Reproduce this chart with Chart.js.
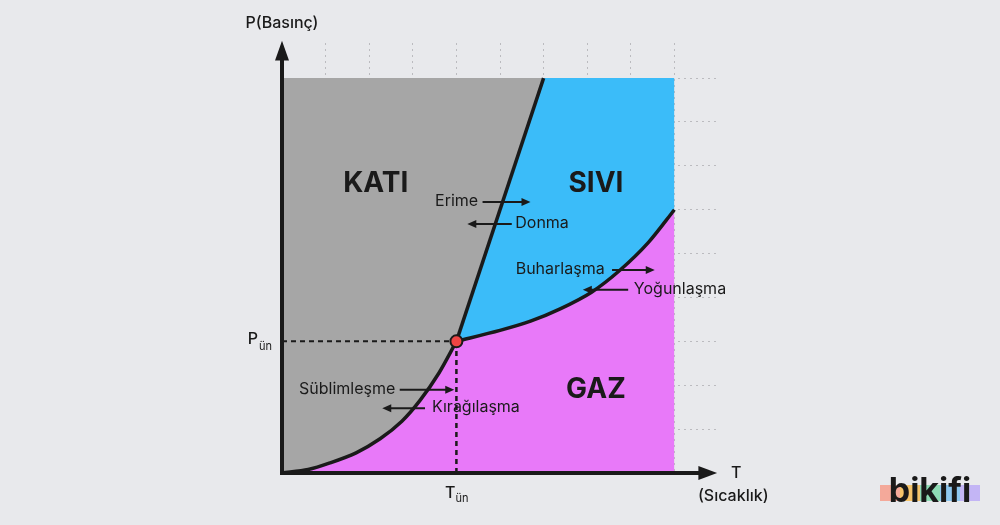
<!DOCTYPE html>
<html>
<head>
<meta charset="utf-8">
<script src="https://cdn.jsdelivr.net/npm/chart.js@4"></script>
<style>
  html, body { margin: 0; background: #e8e9ec; }
  #wrap { width: 1000px; height: 525px; }
</style>
</head>
<body>
<div id="wrap"><canvas id="c"></canvas></div>
<script>
// boundary curves (T, P) in grid units
const sublimation = [
  { x: 0, y: 0 }, { x: 0.6, y: 0.08 }, { x: 1.1, y: 0.23 }, { x: 1.7, y: 0.46 },
  { x: 2.25, y: 0.78 }, { x: 2.75, y: 1.18 }, { x: 3.17, y: 1.66 }, { x: 3.6, y: 2.28 }, { x: 4, y: 3 },
];
const melting = [{ x: 4, y: 3 }, { x: 6, y: 9 }];
const vaporization = [
  { x: 4, y: 3 }, { x: 5, y: 3.25 }, { x: 5.7, y: 3.46 }, { x: 6.38, y: 3.74 },
  { x: 7.1, y: 4.12 }, { x: 7.75, y: 4.62 }, { x: 8.4, y: 5.25 }, { x: 9, y: 6 },
];
const triplePoint = [{ x: 4, y: 3 }];
const topP = 9;

const phaseLabels = [
  { text: "KATI", x: 2.15, y: 6.6 },
  { text: "SIVI", x: 7.2, y: 6.6 },
  { text: "GAZ", x: 7.2, y: 1.9 },
];
// label, text anchor, arrow from -> to (grid units)
const processLabels = [
  { text: "Erime", x: 4.5, y: 6.2, from: 4.6, to: 5.7, align: "right" },
  { text: "Donma", x: 5.35, y: 5.7, from: 5.27, to: 4.25, align: "left" },
  { text: "Buharlaşma", x: 7.4, y: 4.65, from: 7.57, to: 8.55, align: "right" },
  { text: "Yoğunlaşma", x: 8.07, y: 4.2, from: 7.94, to: 6.9, align: "left" },
  { text: "Süblimleşme", x: 2.6, y: 1.92, from: 2.7, to: 3.95, align: "right" },
  { text: "Kırağılaşma", x: 3.44, y: 1.5, from: 3.28, to: 2.3, align: "left" },
];

const font = "Inter, 'Noto Sans', sans-serif";

const overlay = {
  id: "overlay",
  afterDatasetsDraw(chart) {
    const { ctx, scales: { x, y } } = chart;
    const px = (v) => x.getPixelForValue(v);
    const py = (v) => y.getPixelForValue(v);
    ctx.save();
    ctx.fillStyle = "#1a1a1a";
    ctx.strokeStyle = "#1a1a1a";

    // axes with arrowheads
    ctx.lineWidth = 4;
    ctx.beginPath();
    ctx.moveTo(px(0), py(0));
    ctx.lineTo(px(0), py(9.45));
    ctx.moveTo(px(0) - 2, py(0));
    ctx.lineTo(px(9.6), py(0));
    ctx.stroke();
    ctx.beginPath();
    ctx.moveTo(px(0), py(9.85));
    ctx.lineTo(px(0) - 7, py(9.4));
    ctx.lineTo(px(0) + 7, py(9.4));
    ctx.fill();
    ctx.beginPath();
    ctx.moveTo(px(9.98), py(0));
    ctx.lineTo(px(9.55), py(0) - 7);
    ctx.lineTo(px(9.55), py(0) + 7);
    ctx.fill();

    // phase names
    ctx.textAlign = "center";
    ctx.textBaseline = "middle";
    ctx.font = `bold 28px ${font}`;
    phaseLabels.forEach((l) => ctx.fillText(l.text, px(l.x), py(l.y)));

    // process labels and arrows
    ctx.font = `16px ${font}`;
    ctx.lineWidth = 2;
    processLabels.forEach((l) => {
      ctx.textAlign = l.align;
      ctx.fillText(l.text, px(l.x), py(l.y));
      const a = px(l.from), b = px(l.to), yy = py(l.y) + 1;
      const dir = Math.sign(b - a);
      ctx.beginPath();
      ctx.moveTo(a, yy);
      ctx.lineTo(b - dir * 6, yy);
      ctx.stroke();
      ctx.beginPath();
      ctx.moveTo(b, yy);
      ctx.lineTo(b - dir * 9, yy - 4);
      ctx.lineTo(b - dir * 9, yy + 4);
      ctx.fill();
    });

    // axis titles
    ctx.font = `500 16px ${font}`;
    ctx.textAlign = "center";
    ctx.fillText("P(Basınç)", px(0), 23);
    ctx.textAlign = "left";
    ctx.fillText("T", px(10.3), py(0));
    ctx.textAlign = "center";
    ctx.fillText("(Sıcaklık)", px(10.35), py(0) + 23);

    // P_ün and T_ün
    ctx.font = `500 16px ${font}`;
    ctx.textAlign = "right";
    ctx.fillText("P", px(-0.55), py(3) - 2);
    ctx.font = `11px ${font}`;
    ctx.textAlign = "left";
    ctx.fillText("ün", px(-0.55) + 1, py(3) + 5);
    ctx.font = `500 16px ${font}`;
    ctx.textAlign = "right";
    ctx.fillText("T", px(4) - 1, py(0) + 20);
    ctx.font = `11px ${font}`;
    ctx.textAlign = "left";
    ctx.fillText("ün", px(4) - 1, py(0) + 26);

    // logo
    const logoColors = ["#f4a99a", "#f6c46a", "#8fdcb5", "#8ec8f0", "#c3b5f5"];
    logoColors.forEach((c, i) => {
      ctx.fillStyle = c;
      ctx.fillRect(880 + i * 20, 485, 20, 16);
    });
    ctx.fillStyle = "#1a1a1a";
    ctx.font = `bold 34px ${font}`;
    ctx.textAlign = "center";
    ctx.fillText("bikifi", 930, 492);
    ctx.restore();
  },
};

new Chart(document.getElementById("c"), {
  type: "scatter",
  data: {
    datasets: [
      {
        data: [...vaporization],
        showLine: true,
        borderWidth: 0,
        pointRadius: 0,
        backgroundColor: "#3bbcf9",
        fill: { value: topP },
        order: 5,
      },
      {
        data: [...sublimation, ...vaporization.slice(1)],
        showLine: true,
        borderWidth: 0,
        pointRadius: 0,
        backgroundColor: "#e879f9",
        fill: "origin",
        order: 4,
      },
      {
        data: [...sublimation, ...melting.slice(1)],
        showLine: true,
        borderWidth: 0,
        pointRadius: 0,
        backgroundColor: "#a6a6a6",
        fill: { value: topP },
        order: 3,
      },
      {
        data: [{ x: 0, y: 3 }, ...triplePoint],
        showLine: true,
        borderColor: "#1a1a1a",
        borderWidth: 2,
        borderDash: [5, 4],
        pointRadius: 0,
        order: 2,
      },
      {
        data: [{ x: 4, y: 0 }, ...triplePoint],
        showLine: true,
        borderColor: "#1a1a1a",
        borderWidth: 2.5,
        borderDash: [5, 4],
        pointRadius: 0,
        order: 2,
      },
      { data: sublimation, showLine: true, borderColor: "#1a1a1a", borderWidth: 3.5, pointRadius: 0, tension: 0.3, order: 1 },
      { data: melting, showLine: true, borderColor: "#1a1a1a", borderWidth: 3.5, pointRadius: 0, order: 1 },
      { data: vaporization, showLine: true, borderColor: "#1a1a1a", borderWidth: 3.5, pointRadius: 0, tension: 0.3, order: 1 },
      {
        data: triplePoint,
        pointRadius: 6,
        pointBackgroundColor: "#ef4444",
        pointBorderColor: "#1a1a1a",
        pointBorderWidth: 2,
        order: 0,
      },
    ],
  },
  options: {
    responsive: true,
    maintainAspectRatio: false,
    animation: false,
    layout: { padding: { left: 282, right: 282, top: 43, bottom: 52 } },
    plugins: { legend: { display: false }, tooltip: { enabled: false } },
    scales: {
      x: {
        type: "linear",
        min: 0,
        max: 10,
        z: 1,
        ticks: { display: false, stepSize: 1 },
        grid: {
          color: (c) => (c.tick.value > 0 && c.tick.value < 10 ? "rgba(150,150,155,0.55)" : "transparent"),
          drawTicks: false,
        },
        border: { display: false, dash: [2, 4] },
      },
      y: {
        type: "linear",
        min: 0,
        max: 9.8,
        z: 1,
        ticks: { display: false, stepSize: 1 },
        grid: {
          color: (c) => (c.tick.value > 0 && c.tick.value <= 9 ? "rgba(150,150,155,0.55)" : "transparent"),
          drawTicks: false,
        },
        border: { display: false, dash: [2, 4] },
      },
    },
  },
  plugins: [overlay],
});
</script>
</body>
</html>
